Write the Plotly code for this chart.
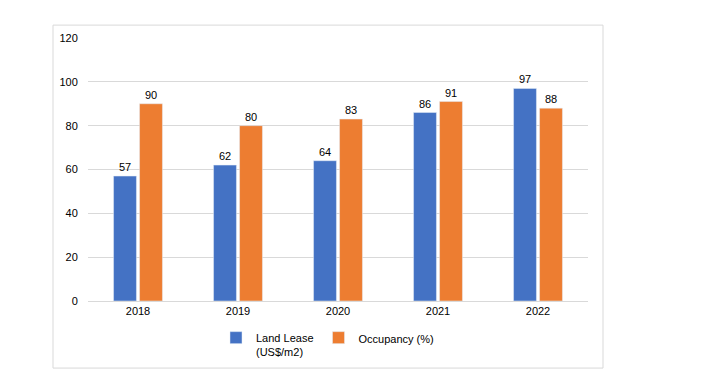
import plotly.graph_objects as go

years = ["2018", "2019", "2020", "2021", "2022"]
land_lease = [57, 62, 64, 86, 97]
occupancy = [90, 80, 83, 91, 88]

font = "Liberation Sans, Arial, sans-serif"

fig = go.Figure()
fig.add_trace(go.Bar(x=years, y=land_lease, name="Land Lease<br>(US$/m2)",
                     marker_color="#4472C4", text=land_lease, textposition="outside",
                     textfont=dict(size=11, color="#000000", family=font), cliponaxis=False))
fig.add_trace(go.Bar(x=years, y=occupancy, name="Occupancy (%)",
                     marker_color="#ED7D31", text=occupancy, textposition="outside",
                     textfont=dict(size=11, color="#000000", family=font), cliponaxis=False))

fig.update_layout(
    width=720, height=375,
    margin=dict(l=88, r=132, t=38, b=74, autoexpand=False),
    paper_bgcolor="white", plot_bgcolor="white",
    barmode="group", bargap=0.48, bargroupgap=0.12,
    font=dict(family=font, size=11, color="#000000"),
    showlegend=True,
    legend=dict(orientation="h", xref="container", yref="container",
                x=0.30, xanchor="left", y=0.136, yanchor="top",
                bgcolor="rgba(0,0,0,0)",
                font=dict(size=11, color="#000000"), itemwidth=30, traceorder="normal",
                valign="top", tracegroupgap=0),
    xaxis=dict(showgrid=False, showline=True, linecolor="#d9d9d9", ticks="",
               automargin=False, tickfont=dict(size=11, color="#000000")),
    yaxis=dict(range=[0, 120], dtick=20, showgrid=True, gridcolor="#d9d9d9",
               zeroline=False, showline=False, ticks="", ticksuffix="   ",
               automargin=False, tickfont=dict(size=11, color="#000000")),
    shapes=[dict(type="rect", xref="paper", yref="paper", x0=-0.07, x1=1.03,
                 y0=-0.255, y1=1.049, line=dict(color="#d9d9d9", width=1), layer="below")],
)

fig.write_html("out.html", config={"displayModeBar": False},
               post_script="document.body.style.margin='0';document.body.style.overflow='hidden';")
